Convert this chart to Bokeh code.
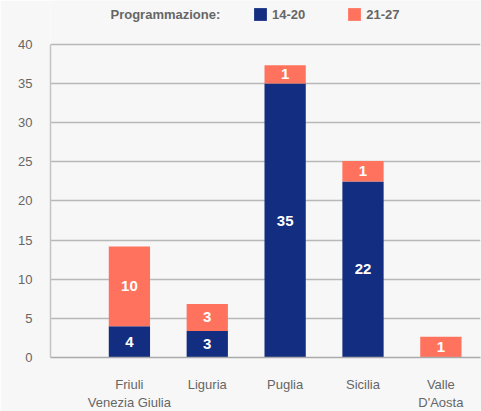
from bokeh.plotting import figure
from bokeh.models import (Range1d, FixedTicker, Legend, LegendItem, Label,
                          ColumnDataSource)
from bokeh.embed import file_html
from bokeh.resources import INLINE

# ---- data ----
regions = ["Friuli\nVenezia Giulia", "Liguria", "Puglia", "Sicilia", "Valle\nD'Aosta"]
labels_1420 = [4, 3, 35, 22, 0]          # printed values, programme 14-20
labels_2127 = [10, 3, 1, 1, 1]           # printed values, programme 21-27
height_1420 = [4.0, 3.4, 35.0, 22.5, 0.0]   # bar heights as drawn
height_2127 = [10.2, 3.45, 2.35, 2.6, 2.65]
series_names = ["14-20", "21-27"]
y_ticks = [0, 5, 10, 15, 20, 25, 30, 35, 40]

BLUE = "#132e80"
ORANGE = "#ff735e"
BG = "#f7f7f7"
GREY_TXT = "#666666"
FONT = "Liberation Sans"

idx = list(range(len(regions)))
bottom_b = [0.0] * len(regions)
top_b = [b + h for b, h in zip(bottom_b, height_1420)]
bottom_o = top_b
top_o = [b + h for b, h in zip(bottom_o, height_2127)]

# frame covers the top strip as well so the header legend is visible
p = figure(frame_width=430, frame_height=357,
           x_range=Range1d(-1.0134, 4.509), y_range=Range1d(0, 45.62),
           output_backend="svg", toolbar_location=None,
           min_border_left=50, min_border_right=1,
           min_border_top=0, min_border_bottom=54)
p.background_fill_color = BG
p.border_fill_color = BG
p.outline_line_color = None

r1 = p.vbar(x=idx, bottom=bottom_b, top=top_b, width=0.53,
            fill_color=BLUE, line_color=None)
r2 = p.vbar(x=idx, bottom=bottom_o, top=top_o, width=0.53,
            fill_color=ORANGE, line_color=None)

# value labels inside segments
lx, ly, lt = [], [], []
for i in idx:
    if labels_1420[i] > 0:
        lx.append(i); ly.append((bottom_b[i] + top_b[i]) / 2); lt.append(str(labels_1420[i]))
    if labels_2127[i] > 0:
        lx.append(i); ly.append((bottom_o[i] + top_o[i]) / 2); lt.append(str(labels_2127[i]))
src = ColumnDataSource(dict(x=lx, y=ly, t=lt))
p.text(x="x", y="y", text="t", source=src, text_align="center",
       text_baseline="middle", text_color="white", text_font_size="15px",
       text_font_style="bold", text_font={"value": FONT})

# axes
p.xaxis.ticker = FixedTicker(ticks=idx)
p.xaxis.major_label_overrides = {i: regions[i] for i in idx}
p.xaxis.major_tick_line_color = None
p.xaxis.minor_tick_line_color = None
p.xaxis.axis_line_color = "#aaaaaa"
p.xaxis.axis_line_width = 1.5
p.xaxis.major_label_standoff = 13
p.xaxis.major_label_text_font = FONT
p.xaxis.major_label_text_font_size = "13px"
p.xaxis.major_label_text_color = GREY_TXT

p.yaxis.ticker = FixedTicker(ticks=y_ticks)
p.yaxis.bounds = (0, 40)
p.yaxis.major_tick_line_color = None
p.yaxis.minor_tick_line_color = None
p.yaxis.axis_line_color = "#c4c4c4"
p.yaxis.axis_line_width = 1.5
p.yaxis.major_label_standoff = 12
p.yaxis.major_label_text_font = FONT
p.yaxis.major_label_text_font_size = "13px"
p.yaxis.major_label_text_color = GREY_TXT

p.xgrid.grid_line_color = None
p.ygrid.grid_line_color = "#b8b8b8"
p.ygrid.grid_line_width = 1.5

# legend on top
legend = Legend(items=[LegendItem(label=series_names[0], renderers=[r1]),
                       LegendItem(label=series_names[1], renderers=[r2])],
                orientation="horizontal", location=(202, 335),
                glyph_width=16, glyph_height=16, label_height=16,
                label_standoff=4, spacing=41, padding=0, margin=0,
                border_line_color=None, background_fill_alpha=0,
                label_text_font=FONT, label_text_font_style="bold",
                label_text_font_size="13px", label_text_color=GREY_TXT)
p.add_layout(legend)

p.add_layout(Label(x=60, y=343, x_units="screen", y_units="screen",
                   text="Programmazione:", text_baseline="middle",
                   text_font=FONT, text_font_style="bold",
                   text_font_size="13px", text_color=GREY_TXT))

open("out.html", "w").write(file_html(p, INLINE))
